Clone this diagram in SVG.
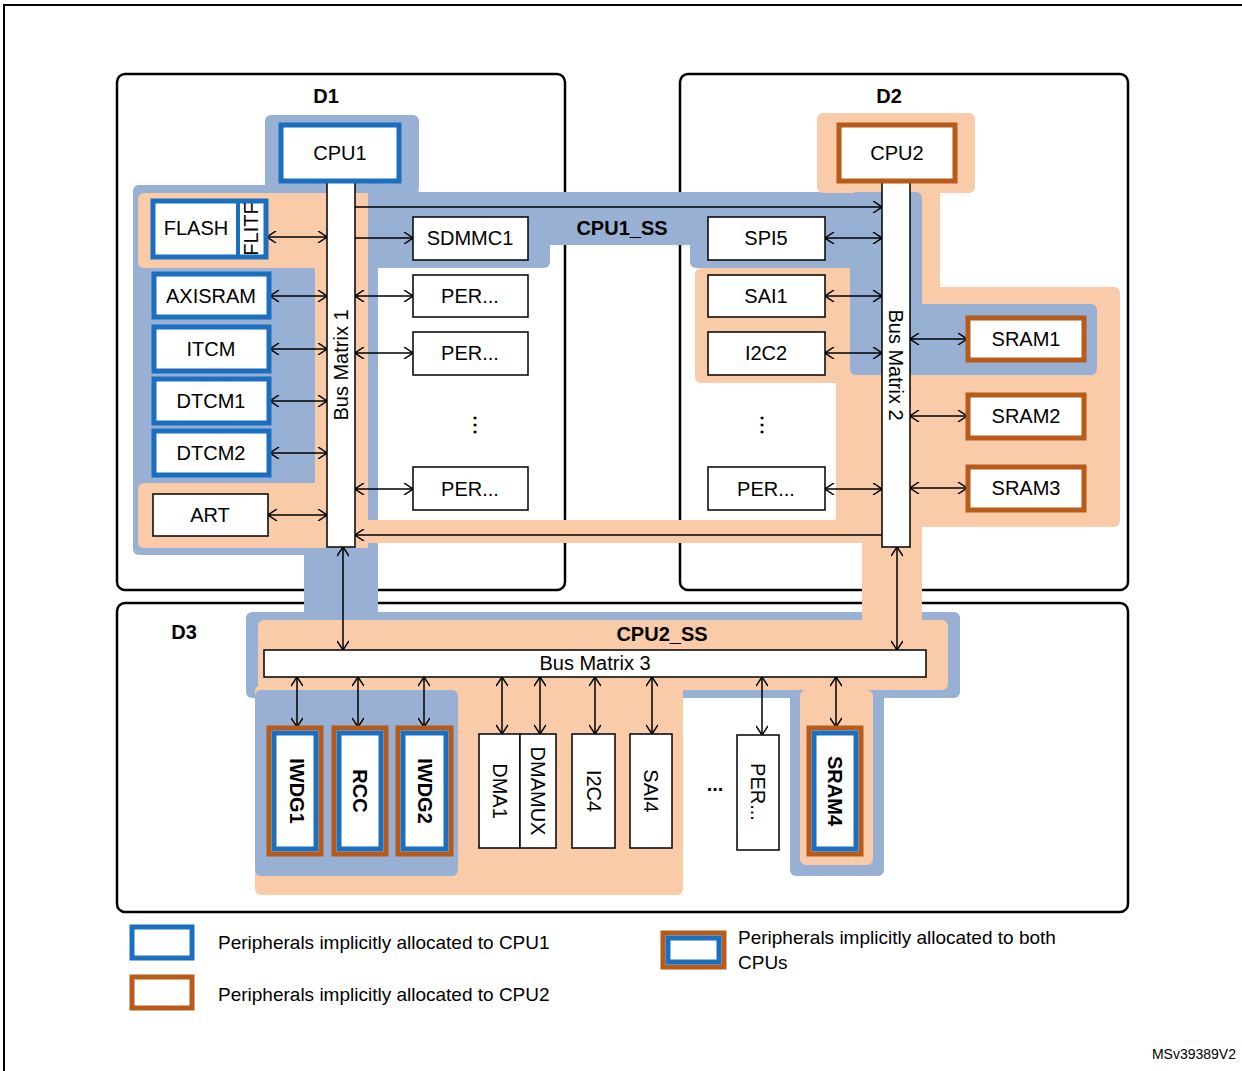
<svg xmlns="http://www.w3.org/2000/svg" width="1242" height="1071" viewBox="0 0 1242 1071">
<style>
text{font-family:"Liberation Sans",Arial,sans-serif;fill:#000}
.t{font-size:20px;text-anchor:middle;dominant-baseline:central}
.b{font-weight:bold}
.bl{fill:#97b0d4}
.or{fill:#f9cba8}
.dom{fill:#fff;stroke:#000;stroke-width:2.5}
.box{fill:#fff;stroke:#000;stroke-width:1.5}
.c1{fill:#fff;stroke:#1a6fbf;stroke-width:5}
.c2{fill:#fff;stroke:#b85a18;stroke-width:5}
.bm{fill:#fff;stroke:#000;stroke-width:1.5}
.cn{fill:none;stroke:#000;stroke-width:1.5}
.lg{font-size:19px}
</style>
<defs>
<marker id="ah" viewBox="0 0 10 12" refX="10" refY="6" markerWidth="10" markerHeight="12" markerUnits="userSpaceOnUse" orient="auto-start-reverse">
<path d="M1,0 L10,6 L1,12" fill="none" stroke="#000" stroke-width="1.5"/>
</marker>
</defs>
<path d="M4,1071 V5 H1242" fill="none" stroke="#000" stroke-width="2"/>
<g id="domains">
<rect id="D1" class="dom" x="117" y="74" width="448" height="516" rx="8"/>
<rect id="D2" class="dom" x="680" y="74" width="448" height="516" rx="8"/>
<rect id="D3" class="dom" x="117" y="603" width="1011" height="309" rx="8"/>
<text class="t b" x="326" y="96" font-size="19">D1</text>
<text class="t b" x="889" y="96" font-size="19">D2</text>
<text class="t b" x="184" y="632" font-size="19">D3</text>
</g>
<g id="regions">
<rect class="bl" x="265" y="115" width="154" height="80" rx="6"/>
<rect class="bl" x="133" y="185" width="245" height="370" rx="6"/>
<rect class="bl" x="360" y="192" width="190" height="76" rx="6"/>
<rect class="bl" x="360" y="192" width="562" height="53" rx="6"/>
<rect class="bl" x="690" y="192" width="232" height="76" rx="6"/>
<rect class="bl" x="360" y="192" width="18" height="425"/>
<rect class="bl" x="304" y="540" width="74" height="77"/>
<rect class="or" x="817" y="113" width="158" height="80" rx="6"/>
<rect class="or" x="862" y="185" width="78" height="120"/>
<rect class="or" x="870" y="287" width="250" height="240" rx="6"/>
<rect class="or" x="695" y="268" width="160" height="115" rx="6"/>
<rect class="or" x="836" y="370" width="40" height="157"/>
<rect class="or" x="368" y="520" width="554" height="23"/>
<rect class="bl" x="850" y="192" width="72" height="183" rx="6"/>
<rect class="bl" x="850" y="304" width="247" height="71" rx="6"/>
<rect class="or" x="138" y="193" width="230" height="75" rx="6"/>
<rect class="or" x="315" y="193" width="53" height="355"/>
<rect class="or" x="138" y="483" width="230" height="65" rx="6"/>
<rect class="bl" x="246" y="612" width="714" height="86" rx="6"/>
<rect class="or" x="255" y="685" width="428" height="210" rx="6"/>
<rect class="bl" x="255" y="690" width="203" height="186" rx="6"/>
<rect class="bl" x="790" y="690" width="94" height="186" rx="6"/>
<rect class="or" x="800" y="690" width="73" height="175" rx="6"/>
<rect class="or" x="258" y="620" width="690" height="70" rx="6"/>
<rect class="or" x="862" y="527" width="60" height="100"/>
<text class="t b" x="622" y="228" font-size="19">CPU1_SS</text>
<text class="t b" x="662" y="634" font-size="19">CPU2_SS</text>
</g>
<g id="connectors">
<line class="cn" x1="267" y1="237" x2="327" y2="237" marker-start="url(#ah)" marker-end="url(#ah)"/>
<line class="cn" x1="270" y1="296" x2="327" y2="296" marker-start="url(#ah)" marker-end="url(#ah)"/>
<line class="cn" x1="270" y1="349" x2="327" y2="349" marker-start="url(#ah)" marker-end="url(#ah)"/>
<line class="cn" x1="270" y1="401" x2="327" y2="401" marker-start="url(#ah)" marker-end="url(#ah)"/>
<line class="cn" x1="270" y1="453" x2="327" y2="453" marker-start="url(#ah)" marker-end="url(#ah)"/>
<line class="cn" x1="268" y1="515" x2="327" y2="515" marker-start="url(#ah)" marker-end="url(#ah)"/>
<line class="cn" x1="355" y1="238" x2="413" y2="238" marker-end="url(#ah)"/>
<line class="cn" x1="355" y1="296" x2="413" y2="296" marker-start="url(#ah)" marker-end="url(#ah)"/>
<line class="cn" x1="355" y1="353" x2="413" y2="353" marker-start="url(#ah)" marker-end="url(#ah)"/>
<line class="cn" x1="355" y1="489" x2="413" y2="489" marker-start="url(#ah)" marker-end="url(#ah)"/>
<line class="cn" x1="355" y1="207" x2="882" y2="207" marker-end="url(#ah)"/>
<line class="cn" x1="882" y1="535" x2="355" y2="535" marker-end="url(#ah)"/>
<line class="cn" x1="825" y1="238" x2="882" y2="238" marker-start="url(#ah)" marker-end="url(#ah)"/>
<line class="cn" x1="825" y1="296" x2="882" y2="296" marker-start="url(#ah)" marker-end="url(#ah)"/>
<line class="cn" x1="825" y1="353" x2="882" y2="353" marker-start="url(#ah)" marker-end="url(#ah)"/>
<line class="cn" x1="825" y1="489" x2="882" y2="489" marker-start="url(#ah)" marker-end="url(#ah)"/>
<line class="cn" x1="910" y1="339" x2="967" y2="339" marker-start="url(#ah)" marker-end="url(#ah)"/>
<line class="cn" x1="910" y1="416" x2="967" y2="416" marker-start="url(#ah)" marker-end="url(#ah)"/>
<line class="cn" x1="910" y1="488" x2="967" y2="488" marker-start="url(#ah)" marker-end="url(#ah)"/>
<line class="cn" x1="343" y1="547" x2="343" y2="650" marker-start="url(#ah)" marker-end="url(#ah)"/>
<line class="cn" x1="897" y1="547" x2="897" y2="650" marker-start="url(#ah)" marker-end="url(#ah)"/>
<line class="cn" x1="297" y1="677" x2="297" y2="727" marker-start="url(#ah)" marker-end="url(#ah)"/>
<line class="cn" x1="358" y1="677" x2="358" y2="727" marker-start="url(#ah)" marker-end="url(#ah)"/>
<line class="cn" x1="424" y1="677" x2="424" y2="727" marker-start="url(#ah)" marker-end="url(#ah)"/>
<line class="cn" x1="502" y1="677" x2="502" y2="734" marker-start="url(#ah)" marker-end="url(#ah)"/>
<line class="cn" x1="540" y1="677" x2="540" y2="734" marker-start="url(#ah)" marker-end="url(#ah)"/>
<line class="cn" x1="595" y1="677" x2="595" y2="734" marker-start="url(#ah)" marker-end="url(#ah)"/>
<line class="cn" x1="652" y1="677" x2="652" y2="734" marker-start="url(#ah)" marker-end="url(#ah)"/>
<line class="cn" x1="762" y1="677" x2="762" y2="735" marker-start="url(#ah)" marker-end="url(#ah)"/>
<line class="cn" x1="836" y1="677" x2="836" y2="727" marker-start="url(#ah)" marker-end="url(#ah)"/>
</g>
<g id="BM1"><rect class="bm" x="327" y="182" width="28" height="365"/><text class="t" font-size="19" transform="translate(341,365) rotate(-90)">Bus Matrix 1</text></g>
<g id="BM2"><rect class="bm" x="882" y="182" width="28" height="365"/><text class="t" font-size="19" transform="translate(896,365) rotate(90)">Bus Matrix 2</text></g>
<g id="BM3"><rect class="bm" x="264" y="650" width="662" height="27"/><text class="t" font-size="18" x="595" y="663">Bus Matrix 3</text></g>
<g id="CPU1"><rect class="c1" x="281" y="125" width="118" height="56"/><text class="t" x="340" y="153">CPU1</text></g>
<g id="CPU2"><rect class="c2" x="839" y="125" width="116" height="56"/><text class="t" x="897" y="153">CPU2</text></g>
<g id="FLASH"><rect class="c1" x="153" y="201" width="113" height="56"/><line x1="238" y1="201" x2="238" y2="257" stroke="#1a6fbf" stroke-width="4"/><text class="t" x="196" y="228">FLASH</text><text class="t" font-size="14" transform="translate(251,229) rotate(-90)">FLITF</text></g>
<g id="AXISRAM"><rect class="c1" x="154" y="274" width="115" height="43"/><text class="t" x="211" y="296">AXISRAM</text></g>
<g id="ITCM"><rect class="c1" x="154" y="327" width="115" height="44"/><text class="t" x="211" y="349">ITCM</text></g>
<g id="DTCM1"><rect class="c1" x="154" y="379" width="115" height="44"/><text class="t" x="211" y="401">DTCM1</text></g>
<g id="DTCM2"><rect class="c1" x="154" y="431" width="115" height="44"/><text class="t" x="211" y="453">DTCM2</text></g>
<g id="ART"><rect class="box" x="153" y="494" width="115" height="42"/><text class="t" x="210" y="515">ART</text></g>
<g id="SDMMC1"><rect class="box" x="413" y="217" width="115" height="43"/><text class="t" x="470" y="238">SDMMC1</text></g>
<g id="PER1"><rect class="box" x="413" y="275" width="115" height="42"/><text class="t" x="470" y="296">PER...</text></g>
<g id="PER2"><rect class="box" x="413" y="332" width="115" height="43"/><text class="t" x="470" y="353">PER...</text></g>
<text class="t b" x="475" y="424">⋮</text>
<g id="PER3"><rect class="box" x="413" y="467" width="115" height="43"/><text class="t" x="470" y="489">PER...</text></g>
<g id="SPI5"><rect class="box" x="708" y="217" width="117" height="43"/><text class="t" x="766" y="238">SPI5</text></g>
<g id="SAI1"><rect class="box" x="708" y="275" width="117" height="42"/><text class="t" x="766" y="296">SAI1</text></g>
<g id="I2C2"><rect class="box" x="708" y="332" width="117" height="43"/><text class="t" x="766" y="353">I2C2</text></g>
<text class="t b" x="762" y="424">⋮</text>
<g id="PER4"><rect class="box" x="708" y="467" width="117" height="43"/><text class="t" x="766" y="489">PER...</text></g>
<g id="SRAM1"><rect class="c2" x="968" y="318" width="116" height="42"/><text class="t" x="1026" y="339">SRAM1</text></g>
<g id="SRAM2"><rect class="c2" x="968" y="395" width="116" height="43"/><text class="t" x="1026" y="416">SRAM2</text></g>
<g id="SRAM3"><rect class="c2" x="968" y="467" width="116" height="43"/><text class="t" x="1026" y="488">SRAM3</text></g>
<g id="IWDG1"><rect class="c2" x="269" y="728" width="52" height="126"/><rect class="c1" x="274" y="733" width="42" height="116"/><text class="t b" transform="translate(297,791) rotate(90)">IWDG1</text></g>
<g id="RCC"><rect class="c2" x="334" y="728" width="52" height="126"/><rect class="c1" x="339" y="733" width="42" height="116"/><text class="t b" transform="translate(360,791) rotate(90)">RCC</text></g>
<g id="IWDG2"><rect class="c2" x="398" y="728" width="53" height="126"/><rect class="c1" x="403" y="733" width="43" height="116"/><text class="t b" transform="translate(425,791) rotate(90)">IWDG2</text></g>
<g id="SRAM4"><rect class="c2" x="809" y="728" width="52" height="126"/><rect class="c1" x="814" y="733" width="42" height="116"/><text class="t b" transform="translate(835,791) rotate(90)">SRAM4</text></g>
<g id="DMA1"><rect class="box" x="479" y="734" width="41" height="114"/><text class="t" transform="translate(500,791) rotate(90)">DMA1</text></g>
<g id="DMAMUX"><rect class="box" x="520" y="734" width="36" height="114"/><text class="t" font-size="19" transform="translate(538,791) rotate(90)">DMAMUX</text></g>
<g id="I2C4"><rect class="box" x="572" y="734" width="43" height="114"/><text class="t" transform="translate(594,791) rotate(90)">I2C4</text></g>
<g id="SAI4"><rect class="box" x="630" y="734" width="42" height="114"/><text class="t" transform="translate(651,791) rotate(90)">SAI4</text></g>
<text class="t b" x="715" y="784">...</text>
<g id="PER5"><rect class="box" x="737" y="735" width="42" height="115"/><text class="t" transform="translate(758,792) rotate(90)">PER...</text></g>
<g id="legend">
<rect class="c1" x="132" y="927" width="60" height="31"/>
<text class="lg" x="218" y="949">Peripherals implicitly allocated to CPU1</text>
<rect class="c2" x="132" y="977" width="60" height="31"/>
<text class="lg" x="218" y="1001">Peripherals implicitly allocated to CPU2</text>
<rect class="c2" x="663" y="933" width="61" height="34"/>
<rect class="c1" x="668" y="938" width="51" height="24"/>
<text class="lg" x="738" y="944">Peripherals implicitly allocated to both</text>
<text class="lg" x="738" y="969">CPUs</text>
<text x="1236" y="1059" font-size="14" text-anchor="end">MSv39389V2</text>
</g>
</svg>
